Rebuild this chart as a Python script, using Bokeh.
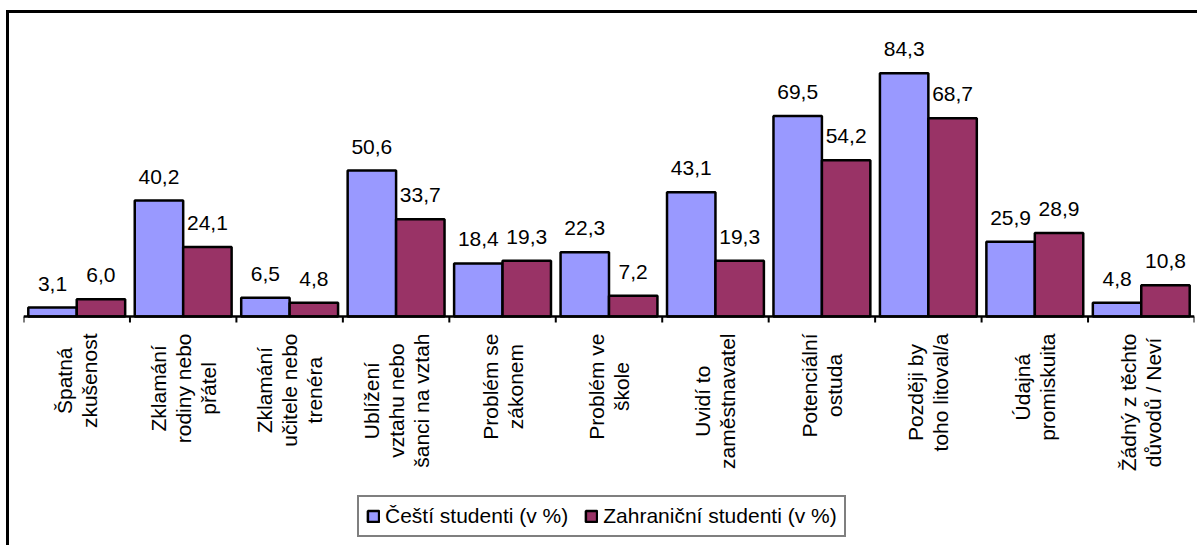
import math
from bokeh.plotting import figure
from bokeh.models import (ColumnDataSource, LabelSet, Span, Legend, LegendItem, Range1d)
from bokeh.core.properties import value
from bokeh.embed import file_html
from bokeh.resources import INLINE

categories = [
    "Špatná\nzkušenost",
    "Zklamání\nrodiny nebo\npřátel",
    "Zklamání\nučitele nebo\ntrenéra",
    "Ublížení\nvztahu nebo\nšanci na vztah",
    "Problém se\nzákonem",
    "Problém ve\nškole",
    "Uvidí to\nzaměstnavatel",
    "Potenciální\nostuda",
    "Později by\ntoho litoval/a",
    "Údajná\npromiskuita",
    "Žádný z těchto\ndůvodů / Neví",
]
czech = [3.1, 40.2, 6.5, 50.6, 18.4, 22.3, 43.1, 69.5, 84.3, 25.9, 4.8]
foreign = [6.0, 24.1, 4.8, 33.7, 19.3, 7.2, 19.3, 54.2, 68.7, 28.9, 10.8]
series_names = ["Čeští studenti (v %)", "Zahraniční studenti (v %)"]
colors = ["#9999FF", "#993366"]

FONT = "Liberation Sans"
FS = 21
n = len(categories)
centers = [i + 0.5 for i in range(n)]
bar_w = 0.455

# canvas geometry (pixels)
W, H = 1191, 535
FRAME_L, FRAME_R, FRAME_T, FRAME_B = 14, 6, 14, 6
BASE = 303            # canvas y of the value 0
PX = 2.885            # pixels per percent
frame_bottom = H - FRAME_B
y_lo = -(frame_bottom - BASE) / PX
y_hi = (BASE - FRAME_T) / PX

# Arial / Liberation Sans advance widths (per 1000 em) for text measuring
AW = {' ': 278, '/': 278, 'N': 722, 'P': 667, 'Š': 667, 'U': 722, 'Ú': 722, 'Z': 611,
      'Ž': 611, 'a': 556, 'á': 556, 'b': 556, 'c': 500, 'č': 500, 'd': 556, 'e': 556,
      'é': 556, 'ě': 556, 'h': 556, 'i': 222, 'í': 278, 'j': 222, 'k': 500, 'l': 222,
      'm': 833, 'n': 556, 'o': 556, 'p': 556, 'r': 333, 'ř': 333, 's': 500, 'š': 500,
      't': 278, 'u': 556, 'ů': 556, 'v': 500, 'y': 500, 'ý': 500, 'z': 500, 'ž': 500}


def text_len(s):
    return sum(AW.get(ch, 556) for ch in s) * FS / 1000.0


def fmt(v):
    return f"{v:.1f}".replace(".", ",")


p = figure(width=W, height=H, x_range=Range1d(0, n), y_range=Range1d(y_lo, y_hi),
           x_axis_type=None, y_axis_type=None, toolbar_location=None,
           output_backend="svg", min_border_left=FRAME_L, min_border_right=FRAME_R,
           min_border_top=FRAME_T, min_border_bottom=FRAME_B)
p.outline_line_color = None
p.background_fill_color = "white"
p.border_fill_color = "white"
p.styles = {"margin-left": "6px", "margin-top": "10px",
            "border-left": "3px solid black", "border-top": "3px solid black"}

# bars + value labels
renderers = []
for k, (vals, col) in enumerate(zip([czech, foreign], colors)):
    xs = [c + (k - 0.5) * bar_w for c in centers]
    src = ColumnDataSource(dict(x=xs, top=vals, label=[fmt(v) for v in vals]))
    r = p.vbar(x="x", top="top", bottom=0, width=bar_w, source=src,
               fill_color=col, line_color="black", line_width=2.5)
    renderers.append(r)
    p.add_layout(LabelSet(x="x", y="top", text="label", source=src,
                          text_align="center", text_baseline="alphabetic",
                          y_offset=17, text_font=value(FONT), text_font_size=value(f"{FS}px"),
                          text_color="black"))

# category axis: baseline + ticks between categories
p.add_layout(Span(location=0, dimension="width", line_color="black", line_width=2.5))
bounds = list(range(n + 1))
p.segment(x0=bounds, y0=[0] * len(bounds), x1=bounds, y1=[-6 / PX] * len(bounds),
          line_color="black", line_width=2)

# category labels: vertical, lines centred on each other, block ends 17px below axis
PITCH = 25
lx, ly, lt, lxo, lyo = [], [], [], [], []
for c, cat in zip(centers, categories):
    lines = cat.split("\n")
    lmax = max(text_len(s) for s in lines)
    for j, s in enumerate(lines):
        lx.append(c)
        ly.append(0)
        lt.append(s)
        lxo.append((j - (len(lines) - 1) / 2) * PITCH)
        lyo.append(-(17 + lmax / 2))
cat_src = ColumnDataSource(dict(x=lx, y=ly, text=lt, xo=lxo, yo=lyo))
p.add_layout(LabelSet(x="x", y="y", text="text", source=cat_src, x_offset="xo", y_offset="yo",
                      angle=math.pi / 2, text_align="center", text_baseline="middle",
                      text_font=value(FONT), text_font_size=value(f"{FS}px"),
                      text_color="black"))

legend = Legend(items=[LegendItem(label=series_names[i], renderers=[renderers[i]]) for i in range(2)],
                orientation="horizontal", location=(334, 5))
legend.border_line_color = "black"
legend.border_line_width = 2
legend.padding = 7
legend.spacing = 16
legend.margin = 0
legend.glyph_width = 14
legend.glyph_height = 14
legend.label_standoff = 5
legend.label_text_font = FONT
legend.label_text_font_size = f"{FS}px"
legend.label_text_color = "black"
legend.background_fill_alpha = 1
p.add_layout(legend)

open("out.html", "w").write(file_html(p, INLINE))
